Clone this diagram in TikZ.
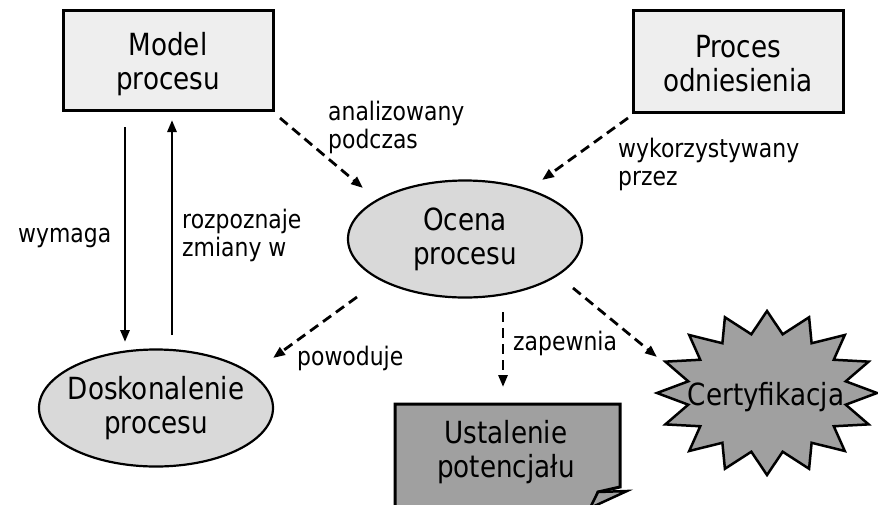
\documentclass[tikz,border=0pt]{standalone}
\usepackage{fontspec}
\setmainfont{DejaVu Sans}[FakeStretch=0.86]
\usetikzlibrary{arrows.meta,shapes.geometric}
\definecolor{boxlight}{HTML}{EEEEEE}
\definecolor{ellgray}{HTML}{D9D9D9}
\definecolor{darkfill}{HTML}{A0A0A0}
\begin{document}
\begin{tikzpicture}[x=1pt,y=-1pt,
  maintext/.style={font=\fontsize{30.5}{34}\selectfont, align=center, inner sep=0pt},
  lbl/.style={font=\fontsize{25.5}{28}\selectfont, align=left, inner sep=0pt, anchor=base west},
  topbox/.style={draw, line width=3pt, fill=boxlight, minimum width=210pt, minimum height=100pt, inner sep=0pt},
  ell/.style={ellipse, draw, line width=2.2pt, fill=ellgray, minimum width=234pt, minimum height=117pt,
    inner xsep=-30pt, inner ysep=0pt, font=\fontsize{30.5}{34}\selectfont, align=center},
  solidarr/.style={line width=2.8pt, -{Triangle[length=12pt,width=9pt]}},
  dasharr/.style={solidarr, dash pattern=on 10pt off 6pt},
  shapeline/.style={draw, line width=3pt, line join=miter, fill=darkfill}
]
\useasboundingbox (0,0) rectangle (878,504);

% top boxes
\node[topbox] (model) at (168,60) {};
\node[maintext] (modeltxt) at (168,64) {Model\\procesu};
\node[topbox, minimum height=102pt] (proces) at (738,61) {};
\node[maintext] (procestxt) at (738,64) {Proces\\odniesienia};

% ellipses
\node[ell] (ocena) at (465,239) {Ocena\\procesu};
\node[ell] (dosk) at (156,408) {Doskonalenie\\procesu};

% Ustalenie box with folded corner
\path[shapeline] (395,404) -- (620,404) -- (620,487) -- (598,492) -- (588,520) -- (395,520) -- cycle;
\path[shapeline, line width=2.5pt] (598,492) -- (627,491) -- (590,508) -- cycle;
\node[maintext] (ust) at (506,452) {Ustalenie\\potencjału};

% star
\path[shapeline, line width=2.5pt] plot[samples at={0,...,31}, variable=\k]
  ({767+110*(0.865+0.135*cos(180*\k))*cos(11.25*\k)}, {393+82*(0.865+0.135*cos(180*\k))*sin(11.25*\k)}) -- cycle;
\node[maintext] (cert) at (766,397) {Certyfikacja};

% connector end points
\coordinate (w1) at (125,127); \coordinate (w2) at (125,342);
\coordinate (r1) at (172,335); \coordinate (r2) at (172,120);
\coordinate (a1) at (280,118); \coordinate (a2) at (363,188);
\coordinate (k1) at (628,118); \coordinate (k2) at (542,180);
\coordinate (p1) at (357,297); \coordinate (p2) at (273,358);
\coordinate (z1) at (503,312); \coordinate (z2) at (503,387);
\coordinate (c1) at (573,288); \coordinate (c2) at (657,357);

\draw[solidarr] (w1) -- (w2);
\draw[solidarr] (r1) -- (r2);
\draw[dasharr] (a1) -- (a2);
\draw[dasharr] (k1) -- (k2);
\draw[dasharr] (p1) -- (p2);
\draw[dasharr] (z1) -- (z2);
\draw[dasharr] (c1) -- (c2);

% labels (base = baseline of the last line)
\node[lbl] (lw) at (18,242) {wymaga};
\node[lbl] (lr) at (182,256) {rozpoznaje\\zmiany w};
\node[lbl] (la) at (328,148) {analizowany\\podczas};
\node[lbl] (lk) at (618,185) {wykorzystywany\\przez};
\node[lbl] (lp) at (297,365) {powoduje};
\node[lbl] (lz) at (513,350) {zapewnia};
\end{tikzpicture}
\end{document}
